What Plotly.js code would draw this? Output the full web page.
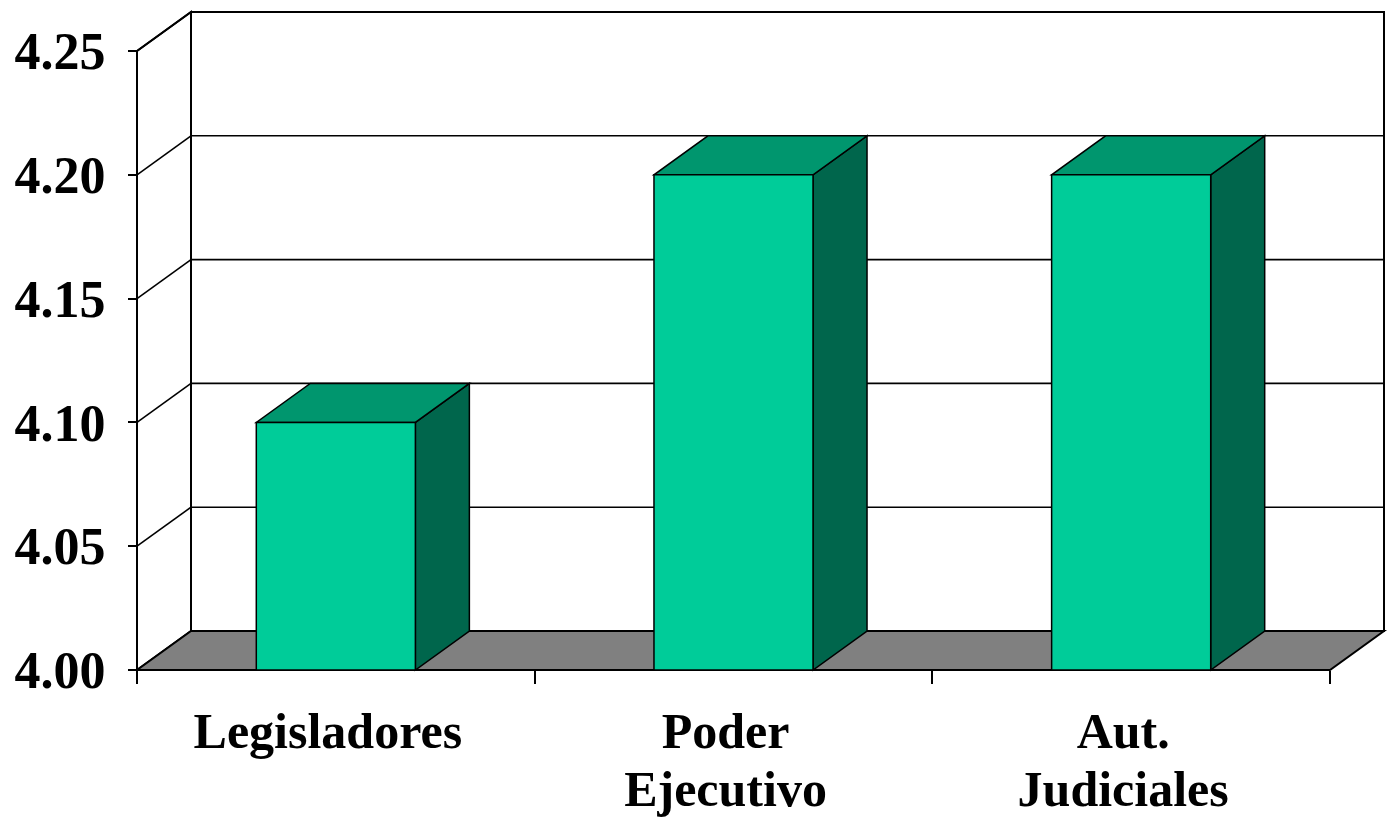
<!DOCTYPE html>
<html><head><meta charset="utf-8">
<script src="https://cdn.plot.ly/plotly-3.0.1.min.js"></script>
<style>html,body{margin:0;padding:0;background:#fff;}#chart{width:1394px;height:827px;}</style>
</head><body><div id="chart"></div>
<script>
// ---- data ----
const categories = ['Legisladores', 'Poder<br>Ejecutivo', 'Aut.<br>Judiciales'];
const values = [4.10, 4.20, 4.20];
const yTickVals = [4.00, 4.05, 4.10, 4.15, 4.20, 4.25];
const yTickText = ['4.00', '4.05', '4.10', '4.15', '4.20', '4.25'];

// ---- layout constants (pixels) ----
const W = 1394, H = 827;
const FRONT = {left: 137, right: 1330, bottom: 670, top: 51};
const DEPTH = {dx: 54, dy: 39};
const PLOT = {l: 127, r: 1390, t: 3, b: 680};
const BAR_W = 0.4;
const LABEL_STANDOFF = 27, LINE_GAP = 58;
const COL = {front: '#00CC99', top: '#00966E', side: '#00664C', floor: '#808080', line: '#000000'};

const Y0 = yTickVals[0], YMAX = yTickVals[yTickVals.length - 1];
const XMIN = -0.5, XMAX = categories.length - 0.5;
const sx = (FRONT.right - FRONT.left) / (XMAX - XMIN);
const sy = (FRONT.bottom - FRONT.top) / (YMAX - Y0);
const DX = DEPTH.dx / sx, DY = DEPTH.dy / sy;
const xRange = [XMIN - (FRONT.left - PLOT.l) / sx, XMIN + (PLOT.r - FRONT.left) / sx];
const yRange = [Y0 - (PLOT.b - FRONT.bottom) / sy, Y0 + (FRONT.bottom - PLOT.t) / sy];
const yPos = (FRONT.left - PLOT.l) / (PLOT.r - PLOT.l);
const xPos = (PLOT.b - FRONT.bottom) / (PLOT.b - PLOT.t);

const xIdx = categories.map((c, i) => i);
const boundaries = [XMIN].concat(xIdx.map(i => i + 0.5));
const line1 = categories.map(c => c.split('<br>')[0]);
const line2 = categories.map(c => c.split('<br>')[1] || '');

function poly(pts) {
  return 'M ' + pts.map(p => p[0] + ',' + p[1]).join(' L ') + ' Z';
}
const shapes = [];
const wallLine = {color: COL.line, width: 2};
// back wall
shapes.push({type: 'path', xref: 'x', yref: 'y', layer: 'below',
  path: poly([[XMIN + DX, Y0 + DY], [XMAX + DX, Y0 + DY], [XMAX + DX, YMAX + DY], [XMIN + DX, YMAX + DY]]),
  fillcolor: '#ffffff', line: wallLine});
// left side wall
shapes.push({type: 'path', xref: 'x', yref: 'y', layer: 'below',
  path: poly([[XMIN, Y0], [XMIN, YMAX], [XMIN + DX, YMAX + DY], [XMIN + DX, Y0 + DY]]),
  fillcolor: '#ffffff', line: wallLine});
// floor
shapes.push({type: 'path', xref: 'x', yref: 'y', layer: 'below',
  path: poly([[XMIN, Y0], [XMAX, Y0], [XMAX + DX, Y0 + DY], [XMIN + DX, Y0 + DY]]),
  fillcolor: COL.floor, line: wallLine});
// gridlines on back wall and side wall
yTickVals.slice(1).forEach(t => {
  shapes.push({type: 'line', xref: 'x', yref: 'y', layer: 'below',
    x0: XMIN + DX, x1: XMAX + DX, y0: t + DY, y1: t + DY, line: {color: COL.line, width: 1.6}});
  shapes.push({type: 'line', xref: 'x', yref: 'y', layer: 'below',
    x0: XMIN, x1: XMIN + DX, y0: t, y1: t + DY, line: {color: COL.line, width: 1.6}});
});
// bar top and side faces
values.forEach((v, i) => {
  const a = i - BAR_W / 2, b = i + BAR_W / 2;
  shapes.push({type: 'path', xref: 'x', yref: 'y', layer: 'below',
    path: poly([[b, Y0], [b, v], [b + DX, v + DY], [b + DX, Y0 + DY]]),
    fillcolor: COL.side, line: {color: COL.line, width: 1.5}});
  shapes.push({type: 'path', xref: 'x', yref: 'y', layer: 'below',
    path: poly([[a, v], [b, v], [b + DX, v + DY], [a + DX, v + DY]]),
    fillcolor: COL.top, line: {color: COL.line, width: 1.5}});
});

const font = {family: 'Liberation Serif, "Times New Roman", serif', size: 52, color: '#000', weight: 'bold'};
const labelFont = Object.assign({}, font, {size: 50});

const trace = {
  type: 'bar', x: xIdx, y: values.map(v => v - Y0), base: Y0, width: BAR_W,
  marker: {color: COL.front, line: {color: COL.line, width: 1.5}},
  hoverinfo: 'skip', showlegend: false
};

function labelAxis(text, standoff) {
  return {range: xRange, overlaying: 'x', anchor: 'free', position: xPos, side: 'bottom',
    showgrid: false, zeroline: false, showline: false,
    tickmode: 'array', tickvals: xIdx, ticktext: text, ticks: '',
    ticklabelstandoff: standoff, ticklabelshift: -8,
    tickfont: labelFont, fixedrange: true};
}

const layout = {
  width: W, height: H,
  margin: {l: PLOT.l, r: W - PLOT.r, t: PLOT.t, b: H - PLOT.b, pad: 0},
  paper_bgcolor: '#fff', plot_bgcolor: 'rgba(0,0,0,0)',
  showlegend: false,
  xaxis: {range: xRange, anchor: 'free', position: xPos, showgrid: false, zeroline: false, showline: false,
    tickmode: 'array', tickvals: boundaries, ticktext: boundaries.map(() => ''),
    ticks: 'outside', ticklen: 13, tickwidth: 2, tickcolor: '#000', fixedrange: true},
  xaxis2: labelAxis(line1, LABEL_STANDOFF),
  xaxis3: labelAxis(line2, LABEL_STANDOFF + LINE_GAP),
  yaxis: {range: yRange, anchor: 'free', position: yPos, showgrid: false, zeroline: false, showline: false,
    tickmode: 'array', tickvals: yTickVals, ticktext: yTickText,
    ticks: 'outside', ticklen: 9, tickwidth: 2, tickcolor: '#000', ticklabelstandoff: 12,
    tickfont: font, fixedrange: true},
  shapes: shapes
};

const labelTrace2 = {type: 'scatter', x: xIdx, y: xIdx.map(() => Y0), xaxis: 'x2', yaxis: 'y',
  mode: 'markers', marker: {opacity: 0}, hoverinfo: 'skip', showlegend: false};
const labelTrace3 = Object.assign({}, labelTrace2, {xaxis: 'x3'});

Plotly.newPlot('chart', [trace, labelTrace2, labelTrace3], layout, {displayModeBar: false, staticPlot: true});
</script>
</body></html>
